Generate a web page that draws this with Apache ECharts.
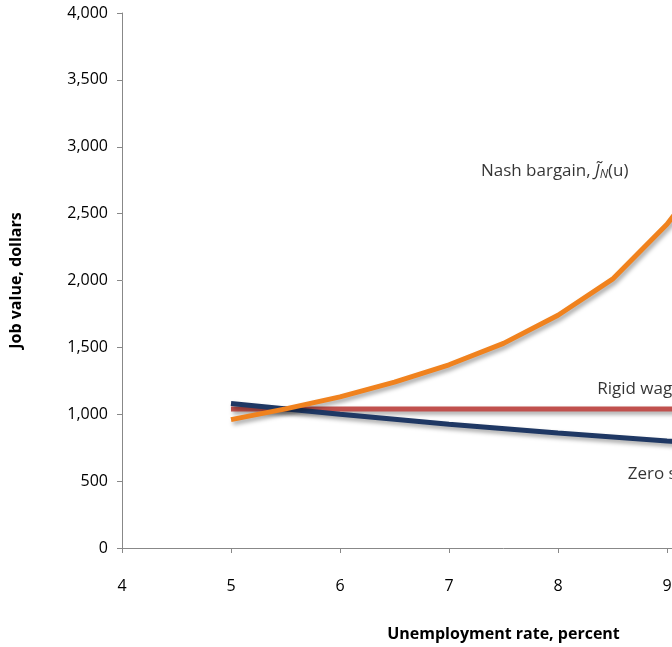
<!DOCTYPE html>
<html><head><meta charset="utf-8">
<script src="https://cdn.jsdelivr.net/npm/echarts@6/dist/echarts.min.js"></script>
<style>html,body{margin:0;overflow:hidden;width:672px;height:647px}#c{width:900px;height:647px}</style>
</head><body><div id="c"></div>
<script>
const xNash = [5, 5.5, 6, 6.5, 7, 7.5, 8, 8.5, 9, 9.5];
const nash = [960, 1040, 1130, 1240, 1370, 1530, 1740, 2010, 2420, 2950];
const xRigid = [5, 11];
const rigid = [1040, 1040];
const xZero = [5, 6, 7, 8, 9, 10, 11];
const zero = [1080, 1000, 925, 860, 800, 750, 700];
const labelPoints = [[7.97, 2820, 'nash', 'center'], [8.36, 1190, 'rigid', 'left'], [8.64, 555, 'zero', 'left']];

const shadow = {shadowColor: 'rgba(0,0,0,0.35)', shadowBlur: 4, shadowOffsetX: 2, shadowOffsetY: 3};
const font = '"Open Sans", sans-serif';
const chart = echarts.init(document.getElementById('c'));
chart.setOption({
  animation: false,
  textStyle: {fontFamily: font},
  grid: {left: 122, right: 15, top: 13, bottom: 96},
  xAxis: {
    type: 'value', min: 4, max: 11, interval: 1,
    name: 'Unemployment rate, percent', nameLocation: 'middle', nameGap: 78,
    nameTextStyle: {fontSize: 16, fontWeight: 'bold', color: '#000', fontFamily: font},
    axisLine: {lineStyle: {color: '#888'}},
    axisTick: {show: true, lineStyle: {color: '#888'}},
    axisLabel: {fontSize: 16, color: '#000', margin: 30, fontFamily: font},
    splitLine: {show: false}
  },
  yAxis: {
    type: 'value', min: 0, max: 4000, interval: 500,
    name: 'Job value, dollars', nameLocation: 'middle', nameGap: 98,
    nameTextStyle: {fontSize: 16, fontWeight: 'bold', color: '#000', fontFamily: font},
    axisLine: {show: true, lineStyle: {color: '#888'}},
    axisTick: {show: true, lineStyle: {color: '#888'}},
    axisLabel: {fontSize: 16, color: '#000', margin: 14, fontFamily: font,
      formatter: v => v.toLocaleString('en-US')},
    splitLine: {show: false}
  },
  series: [
    {type: 'line', data: xRigid.map((x, i) => [x, rigid[i]]), symbol: 'none',
      lineStyle: Object.assign({color: '#c0504d', width: 5}, shadow)},
    {type: 'line', data: xZero.map((x, i) => [x, zero[i]]), symbol: 'none',
      lineStyle: Object.assign({color: '#1f3864', width: 5}, shadow)},
    {type: 'line', data: xNash.map((x, i) => [x, nash[i]]), symbol: 'none',
      lineStyle: Object.assign({color: '#f0821e', width: 5}, shadow)},
    {type: 'scatter', symbolSize: 0, silent: true,
      data: labelPoints.map(p => ({value: [p[0], p[1]], name: p[2],
        label: {align: p[3]}})),
      label: {show: true, position: 'inside', color: '#000', fontSize: 17, fontFamily: font,
        formatter: p => p.name === 'nash' ? 'Nash bargain, {i|J̃}{s|N}(u)' :
          p.name === 'rigid' ? 'Rigid wage' : 'Zero surplus',
        rich: {i: {fontStyle: 'italic', fontSize: 17, fontFamily: font},
          s: {fontStyle: 'italic', fontSize: 12, fontFamily: font, padding: [8, 0, 0, 0]}}}}
  ]
});
</script></body></html>
